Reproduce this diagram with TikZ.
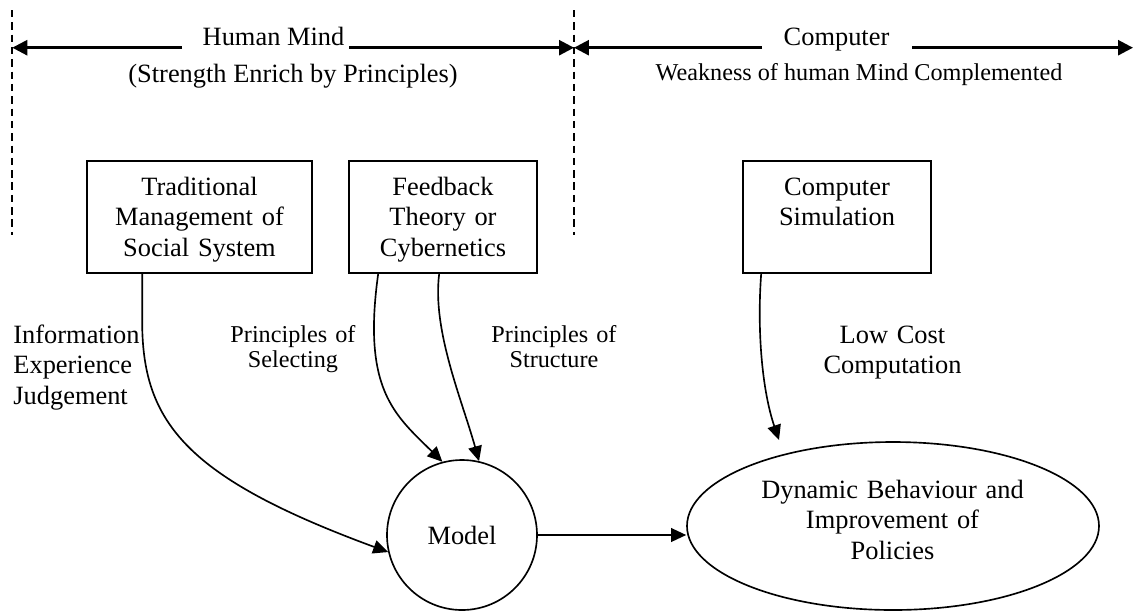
\documentclass[tikz,border=0pt]{standalone}
\usepackage{fontspec}
\setmainfont{Liberation Serif}
\usetikzlibrary{arrows.meta,shapes.geometric,calc}
% one drawing unit = one pixel of a 1134 x 610 canvas
\newcommand\pxl{0.454545pt}
\begin{document}
\begin{tikzpicture}[x=\pxl,y=-\pxl,
  box/.style={draw, rectangle, line width=0.75pt, inner sep=0pt, minimum height=50.91pt},
  txt/.style={inner sep=0pt, font=\fontsize{12}{14}\selectfont, align=center},
  small/.style={inner sep=0pt, font=\fontsize{11}{11.6}\selectfont, align=center},
  flow/.style={line width=0.75pt, -{Triangle[length=6.8pt,width=6.2pt]}},
  span/.style={line width=1.2pt, -{Triangle[length=6.8pt,width=6.8pt]}},
  divider/.style={line width=0.75pt, dash pattern=on 3.4pt off 2.2pt}]

\path[fill=white, use as bounding box] (0,0) rectangle (1134,610);

% region dividers
\coordinate (d1top) at (12.3,10);
\coordinate (d1bot) at (12.3,235);
\coordinate (d2top) at (574,10);
\coordinate (d2bot) at (574,235);
\draw[divider] (d1top) -- (d1bot);
\draw[divider] (d2top) -- (d2bot);

% region headings
\node[txt, anchor=base] (hm) at (273.5,45) {Human Mind};
\node[txt, anchor=base] (hmsub) at (293,82) {(Strength Enrich by Principles)};
\node[txt, anchor=base] (comp) at (836.5,45) {Computer};
\node[small, anchor=base] (compsub) at (859,80) {Weakness of human Mind Complemented};

\coordinate (hmL) at (182,47.7);
\coordinate (hmR) at (349,47.7);
\coordinate (cL) at (762,47.7);
\coordinate (cR) at (912,47.7);
\coordinate (endR) at (1133,47.7);
\draw[span] (hmL) -- (d1top |- hmL);
\draw[span] (hmR) -- (d2top |- hmR);
\draw[span] (cL) -- (d2top |- cL);
\draw[span] (cR) -- (endR);

% source boxes
\node[box, minimum width=102.27pt] (b1) at (199.5,217) {};
\node[txt, text width=100pt, anchor=base] (t1) at (199.5,195) {Traditional\\Management of\\Social System};
\node[box, minimum width=85.45pt] (b2) at (443,217) {};
\node[txt, text width=84pt, anchor=base] (t2) at (443,195) {Feedback\\Theory or\\Cybernetics};
\node[box, minimum width=85.45pt] (b3) at (837,217) {};
\node[txt, text width=84pt, anchor=base] (t3) at (837,195) {Computer\\Simulation};

% model and outcome
\node[draw, circle, line width=0.75pt, minimum size=68.18pt, inner sep=0pt,
      font=\fontsize{12}{14}\selectfont] (model) at (462,535) {Model};
\node[draw, ellipse, line width=0.75pt, minimum width=187.27pt, minimum height=76.36pt,
      inner sep=0pt] (dyn) at (893,526) {};
\node[txt, text width=150pt, anchor=base] (dyntxt) at (892.5,498) {Dynamic Behaviour and\\Improvement of\\Policies};
\coordinate (dyntop) at (779,440);

% flow labels
\node[txt, align=left, text width=70pt, anchor=base west] (info) at (13,343) {Information\\Experience\\Judgement};
\node[small, text width=70pt, anchor=base] (psel) at (293,342) {Principles of\\Selecting};
\node[small, text width=70pt, anchor=base] (pstr) at (554,342) {Principles of\\Structure};
\node[txt, text width=80pt, anchor=base] (lcc) at (892.5,343) {Low Cost\\Computation};

% flows
\draw[flow] ($(b1.south west)+(56,0)$) -- ($(b1.south west)+(56,50)$)
  .. controls (143,423) and (187,478) .. (model.193.5);
\draw[flow] ($(b2.south west)+(30,0)$) .. controls (362,390) and (395,415) .. (model.105);
\draw[flow] ($(b2.south west)+(91,0)$) .. controls (432,330) and (462,400) .. (model.77);
\draw[flow] ($(b3.south west)+(19,0)$) .. controls (757,330) and (762,390) .. (dyntop);
\draw[flow] (model.east) -- (model.east -| dyn.west);

\end{tikzpicture}
\end{document}
